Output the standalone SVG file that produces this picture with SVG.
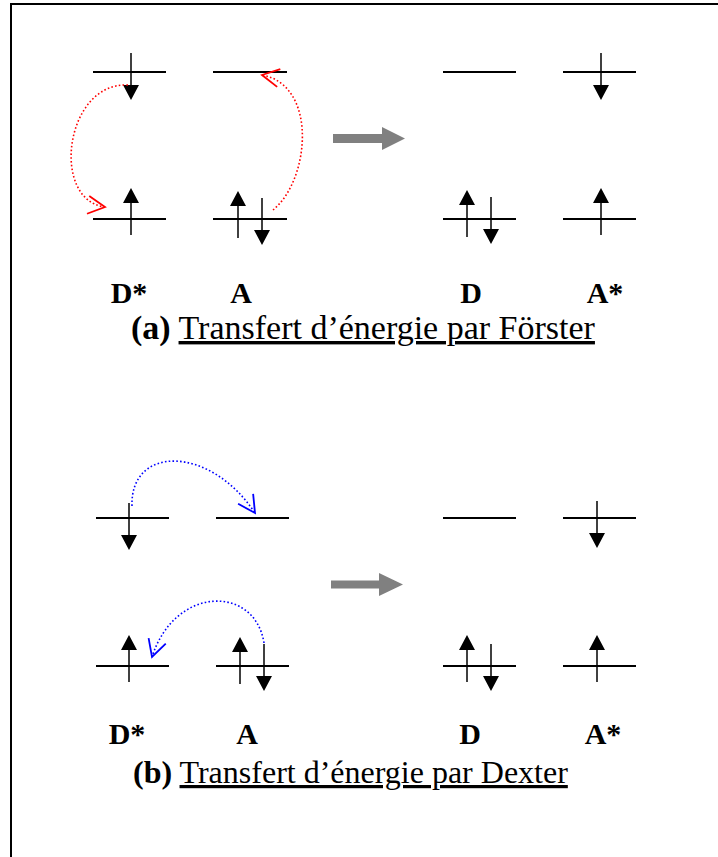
<svg xmlns="http://www.w3.org/2000/svg" xmlns:xlink="http://www.w3.org/1999/xlink" width="718" height="857" viewBox="0 0 718 857">
<style>
.lvl{stroke:#000;stroke-width:2;fill:none}
.stem{stroke:#000;stroke-width:1.5}
.head{fill:#000}
.red{stroke:#ff0000;stroke-width:1.6;fill:none;stroke-dasharray:1.6 2.2}
.blue{stroke:#0000ff;stroke-width:1.6;fill:none;stroke-dasharray:1.6 2.2}
.gray{fill:#808080}
.lab{font-family:"Liberation Serif","Times New Roman",serif;font-weight:bold;font-size:30px;fill:#000;text-anchor:middle}
.cap{font-family:"Liberation Serif","Times New Roman",serif;fill:#000}
</style>
<defs>
<g id="up"><line class="stem" x1="0" y1="0" x2="0" y2="-33"/><polygon class="head" points="-8,-32 8,-32 0,-47"/></g>
<g id="dn"><line class="stem" x1="0" y1="0" x2="0" y2="33"/><polygon class="head" points="-8,32 8,32 0,47"/></g>
<marker id="vr" markerUnits="userSpaceOnUse" markerWidth="24" markerHeight="24" viewBox="-20 -12 24 24" refX="0" refY="0" orient="auto"><path d="M-17,-9 L0,0 L-17,9" fill="none" stroke="#ff0000" stroke-width="1.8"/></marker>
<marker id="vb" markerUnits="userSpaceOnUse" markerWidth="24" markerHeight="24" viewBox="-20 -12 24 24" refX="0" refY="0" orient="auto"><path d="M-17,-9 L0,0 L-17,9" fill="none" stroke="#0000ff" stroke-width="1.8"/></marker>
</defs>
<rect x="11" y="4" width="800" height="900" fill="#fff" stroke="#000" stroke-width="2"/>

<!-- Förster -->
<g id="f-Dstar">
<line class="lvl" x1="93" y1="72" x2="166" y2="72"/><use xlink:href="#dn" x="131" y="53"/>
<line class="lvl" x1="93" y1="219" x2="166" y2="219"/><use xlink:href="#up" x="131" y="235"/>
<text class="lab" x="129" y="303">D*</text>
</g>
<g id="f-A">
<line class="lvl" x1="213" y1="72" x2="287" y2="72"/>
<line class="lvl" x1="213" y1="219" x2="287" y2="219"/><use xlink:href="#up" x="238" y="238"/><use xlink:href="#dn" x="262" y="198"/>
<text class="lab" x="241" y="303">A</text>
</g>
<g id="f-D">
<line class="lvl" x1="443" y1="72" x2="516" y2="72"/>
<line class="lvl" x1="443" y1="219" x2="516" y2="219"/><use xlink:href="#up" x="467" y="237"/><use xlink:href="#dn" x="491" y="197"/>
<text class="lab" x="471" y="303">D</text>
</g>
<g id="f-Astar">
<line class="lvl" x1="563" y1="72" x2="636" y2="72"/><use xlink:href="#dn" x="601" y="53"/>
<line class="lvl" x1="563" y1="219" x2="636" y2="219"/><use xlink:href="#up" x="601" y="235"/>
<text class="lab" x="605" y="303">A*</text>
</g>
<g id="f-caption">
<text class="cap" x="131" y="339" font-size="34"><tspan font-weight="bold">(a)</tspan> <tspan text-decoration="underline">Transfert d’énergie par Förster</tspan></text>
</g>

<!-- Dexter -->
<g id="d-Dstar">
<line class="lvl" x1="96" y1="518" x2="169" y2="518"/><use xlink:href="#dn" x="129" y="503"/>
<line class="lvl" x1="96" y1="666" x2="169" y2="666"/><use xlink:href="#up" x="129" y="682"/>
<text class="lab" x="127" y="744">D*</text>
</g>
<g id="d-A">
<line class="lvl" x1="216" y1="518" x2="289" y2="518"/>
<line class="lvl" x1="216" y1="666" x2="289" y2="666"/><use xlink:href="#up" x="240" y="684"/><use xlink:href="#dn" x="264" y="644"/>
<text class="lab" x="247" y="744">A</text>
</g>
<g id="d-D">
<line class="lvl" x1="443" y1="518" x2="516" y2="518"/>
<line class="lvl" x1="443" y1="666" x2="516" y2="666"/><use xlink:href="#up" x="467" y="682"/><use xlink:href="#dn" x="491" y="644"/>
<text class="lab" x="470" y="744">D</text>
</g>
<g id="d-Astar">
<line class="lvl" x1="563" y1="518" x2="636" y2="518"/><use xlink:href="#dn" x="597" y="501"/>
<line class="lvl" x1="563" y1="666" x2="636" y2="666"/><use xlink:href="#up" x="597" y="682"/>
<text class="lab" x="603" y="744">A*</text>
</g>
<g id="d-caption">
<text class="cap" x="133" y="783" font-size="32"><tspan font-weight="bold">(b)</tspan> <tspan text-decoration="underline">Transfert d’énergie par Dexter</tspan></text>
</g>

<g id="connectors">
<path class="red" d="M128,85 C65,82 50,200 105,207" marker-end="url(#vr)"/>
<path class="red" d="M273,210 C310,180 318,85 262,75" marker-end="url(#vr)"/>
<path class="blue" d="M132,506 C130,445 210,445 255,513" marker-end="url(#vb)"/>
<path class="blue" d="M264,643 C255,585 175,585 152,657" marker-end="url(#vb)"/>
<polygon class="gray" points="333,134 382,134 382,127 405,138.5 382,150 382,143 333,143"/>
<polygon class="gray" points="331,580.5 379,580.5 379,573 403,584.5 379,596 379,588.5 331,588.5"/>
</g>
</svg>
